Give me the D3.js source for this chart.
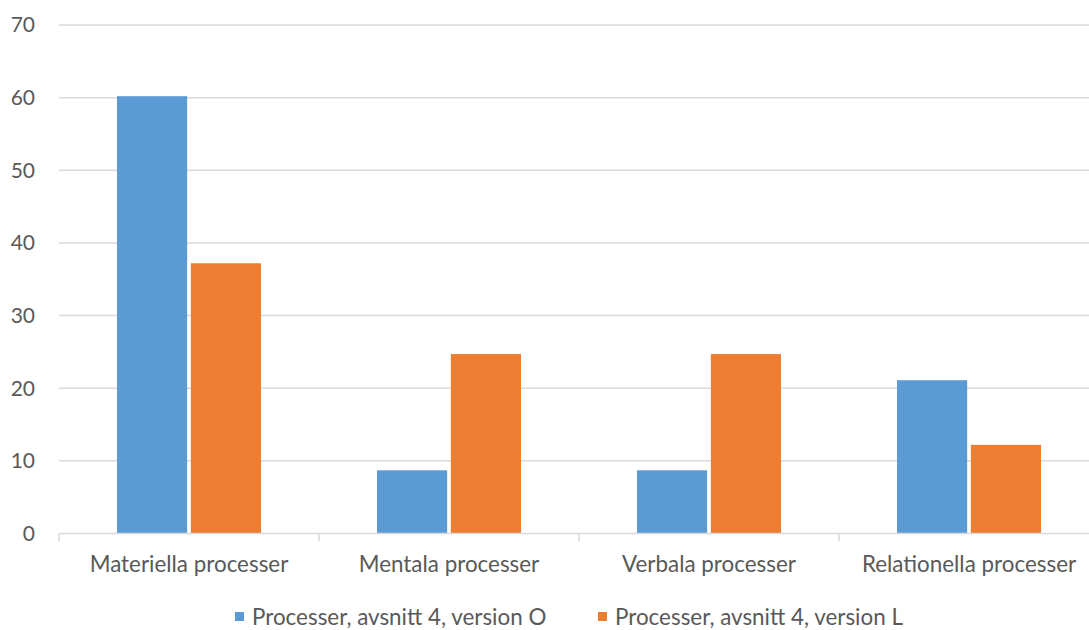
<!DOCTYPE html>
<html>
<head>
<meta charset="utf-8">
<script src="https://cdn.jsdelivr.net/npm/d3@7"></script>
<style>
  html, body { margin: 0; padding: 0; background: #ffffff; }
  svg { display: block; }
  text { font-family: Lato, "Open Sans", sans-serif; fill: #595959; }
</style>
</head>
<body>
<svg id="chart" width="1089" height="630"></svg>
<script>
// Categories and series
const categories = ["Materiella processer", "Mentala processer", "Verbala processer", "Relationella processer"];
const seriesNames = ["Processer, avsnitt 4, version O", "Processer, avsnitt 4, version L"];
const versionO = [60.2, 8.7, 8.7, 21.1];
const versionL = [37.2, 24.7, 24.7, 12.2];
const yTicks = [0, 10, 20, 30, 40, 50, 60, 70];
const colors = ["#5B9BD5", "#ED7D31"];

const svg = d3.select("#chart");
const plotLeft = 59, plotRight = 1099, plotTop = 25, plotBottom = 533.5;

const x0 = d3.scaleBand().domain(categories).range([plotLeft, plotRight]).padding(0);
const x1 = d3.scaleBand().domain(seriesNames).range([58, 202]).paddingInner(0.05).paddingOuter(0);
const y = d3.scaleLinear().domain([0, 70]).range([plotBottom, plotTop]);

// Horizontal gridlines
svg.append("g")
  .selectAll("line")
  .data(yTicks.filter(d => d > 0))
  .join("line")
  .attr("x1", plotLeft).attr("x2", 1089)
  .attr("y1", d => y(d)).attr("y2", d => y(d))
  .attr("stroke", "#D9D9D9").attr("stroke-width", 1.5);

// Y tick labels
svg.append("g")
  .selectAll("text")
  .data(yTicks)
  .join("text")
  .attr("x", 35).attr("y", d => y(d))
  .attr("dy", "0.35em")
  .attr("text-anchor", "end")
  .attr("font-size", 21)
  .text(d => d);

// Bars
const rows = categories.map((c, i) => ({ cat: c, vals: [versionO[i], versionL[i]] }));
const groups = svg.append("g")
  .selectAll("g")
  .data(rows)
  .join("g")
  .attr("transform", d => `translate(${x0(d.cat)},0)`);

groups.selectAll("rect")
  .data(d => d.vals.map((v, j) => ({ name: seriesNames[j], v, j })))
  .join("rect")
  .attr("x", d => x1(d.name))
  .attr("width", x1.bandwidth())
  .attr("y", d => y(d.v))
  .attr("height", d => y(0) - y(d.v))
  .attr("fill", d => colors[d.j]);

// X axis line with category boundary ticks
const xAxis = svg.append("g");
xAxis.append("line")
  .attr("x1", plotLeft).attr("x2", 1089)
  .attr("y1", y(0)).attr("y2", y(0))
  .attr("stroke", "#D9D9D9").attr("stroke-width", 1.5);
const boundaries = categories.map(c => x0(c)).concat([x0.range()[1]]);
xAxis.selectAll("line.tick")
  .data(boundaries)
  .join("line")
  .attr("class", "tick")
  .attr("x1", d => d).attr("x2", d => d)
  .attr("y1", y(0)).attr("y2", y(0) + 8)
  .attr("stroke", "#D9D9D9").attr("stroke-width", 1.5);

xAxis.selectAll("text")
  .data(categories)
  .join("text")
  .attr("x", d => x0(d) + x0.bandwidth() / 2)
  .attr("y", 572)
  .attr("text-anchor", "middle")
  .attr("font-size", 22.4)
  .text(d => d);

// Legend
const legendItems = [
  { name: seriesNames[0], color: colors[0], x: 235 },
  { name: seriesNames[1], color: colors[1], x: 598 }
];
const legend = svg.append("g")
  .selectAll("g")
  .data(legendItems)
  .join("g")
  .attr("transform", d => `translate(${d.x},617)`);
legend.append("rect")
  .attr("x", 0).attr("y", -5).attr("width", 9).attr("height", 9)
  .attr("fill", d => d.color);
legend.append("text")
  .attr("x", 17).attr("y", 0)
  .attr("dy", "0.35em")
  .attr("font-size", 22.4)
  .text(d => d.name);
</script>
</body>
</html>
